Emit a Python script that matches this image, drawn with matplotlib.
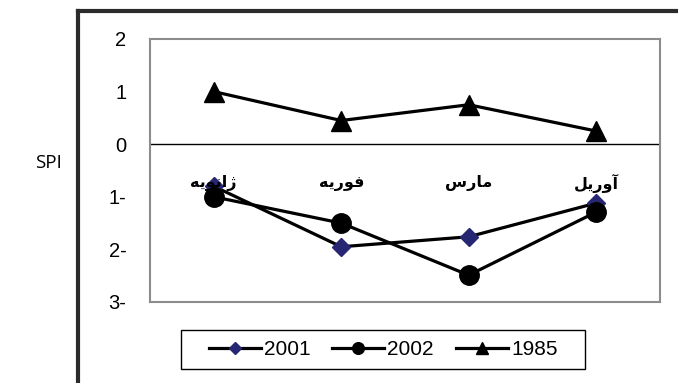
import numpy as np
import matplotlib.pyplot as plt
from matplotlib.lines import Line2D
from matplotlib.patches import Rectangle

# Months (Arabic presentation forms, visual order so no shaping is needed)
meses = ['\ufeea\ufef3\ufeee\ufee7\ufe8d\ufb8a',   # ژانویه
         '\ufeea\ufef3\ufead\ufeee\ufed3',         # فوریه
         '\ufeb1\ufead\ufe8e\ufee3',               # مارس
         '\ufede\ufef3\ufead\ufeed\ufe81']         # آوریل

spi_2001 = [-0.80, -1.95, -1.76, -1.12]
spi_2002 = [-1.00, -1.50, -2.49, -1.29]
spi_1985 = [1.00, 0.45, 0.75, 0.25]

yticks = [2, 1, 0, -1, -2, -3]
ytick_labels = ['2', '1', '0', '1-', '2-', '3-']

plt.rcParams['font.family'] = ['Liberation Sans', 'DejaVu Sans']

fig = plt.figure(figsize=(6.78, 3.83), dpi=100)
ax = fig.add_axes([0.2212, 0.2115, 0.7522, 0.6867])

x = np.arange(len(meses))
ax.plot(x, spi_2001, color='black', lw=2.3, marker='D', ms=9.5,
        mfc='#262673', mec='#262673', label='2001', zorder=3)
ax.plot(x, spi_2002, color='black', lw=2.3, marker='o', ms=14,
        mfc='black', mec='black', label='2002', zorder=4)
ax.plot(x, spi_1985, color='black', lw=2.3, marker='^', ms=14,
        mfc='black', mec='black', label='1985', zorder=4)

ax.axhline(0, color='black', lw=1.0, zorder=2)

ax.set_xlim(-0.5, 3.5)
ax.set_ylim(-3, 2)
ax.set_xticks([])
ax.set_yticks(yticks)
ax.set_yticklabels(ytick_labels, fontsize=14.5)
ax.tick_params(axis='y', length=0, pad=17)

for s in ax.spines.values():
    s.set_color('#8c8c8c')
    s.set_linewidth(1.5)

# month names sit just under the zero line
for i, m in enumerate(meses):
    ax.text(i, -0.74, m, ha='center', va='center', fontsize=11.5,
            fontweight='bold', family=['DejaVu Sans'], zorder=5)

fig.text(48 / 678, 1 - 163 / 383, 'SPI', ha='center', va='center',
         fontsize=13.5, family=['Open Sans', 'DejaVu Sans'])

# legend box drawn separately so it can be wider than its entries
fig.legend(loc='center', bbox_to_anchor=(383 / 678, 1 - 349.5 / 383),
           ncol=3, fontsize=15, markerscale=0.6, handlelength=2.5,
           handletextpad=0.15, columnspacing=1.05, frameon=False)
fig.add_artist(Rectangle((181 / 678, 1 - 369 / 383), 404 / 678, 39 / 383,
                         transform=fig.transFigure, fill=False,
                         edgecolor='black', lw=1.0))

# outer chart border (only the top and left edges fall inside the image)
fig.add_artist(Line2D([78 / 678, 78 / 678], [0, 1 - 11 / 383],
                      transform=fig.transFigure, color='#2b2b2b', lw=3))
fig.add_artist(Line2D([78 / 678, 1], [1 - 11 / 383, 1 - 11 / 383],
                      transform=fig.transFigure, color='#2b2b2b', lw=3))

plt.savefig('out.png', dpi=100)
